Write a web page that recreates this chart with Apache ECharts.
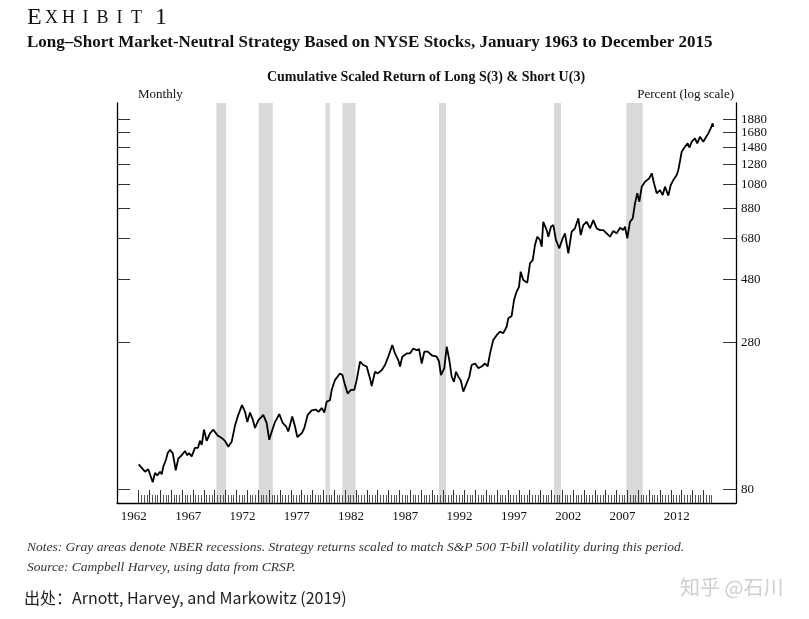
<!DOCTYPE html>
<html><head><meta charset="utf-8">
<script src="https://cdn.jsdelivr.net/npm/echarts@6/dist/echarts.min.js"></script>
<style>html,body{margin:0;padding:0;background:#fff}#c{width:809px;height:619px}</style>
</head><body><div id="c"></div>
<script>
// ---- data ----
const dates = [1963.0,1963.58,1963.88,1964.29,1964.5,1964.71,1964.96,1965.12,1965.26,1965.51,
1965.67,1965.88,1966.13,1966.28,1966.41,1966.64,1966.96,1967.26,1967.47,1967.63,
1967.88,1968.18,1968.46,1968.64,1968.8,1969.01,1969.26,1969.56,1969.87,1970.24,
1970.64,1970.94,1971.25,1971.56,1971.87,1972.17,1972.51,1972.79,1973.0,1973.25,
1973.5,1973.71,1974.01,1974.47,1974.78,1975.02,1975.25,1975.55,1975.94,1976.26,
1976.56,1976.77,1977.14,1977.39,1977.6,1978.01,1978.25,1978.56,1978.93,1979.3,
1979.55,1979.85,1980.09,1980.31,1980.61,1980.77,1981.07,1981.53,1981.76,1981.99,
1982.24,1982.55,1982.85,1983.07,1983.38,1983.68,1983.99,1984.3,1984.45,1984.76,
1985.01,1985.37,1985.68,1985.98,1986.35,1986.6,1986.9,1987.06,1987.27,1987.68,
1987.98,1988.28,1988.6,1988.81,1989.06,1989.3,1989.61,1989.98,1990.44,1990.65,
1990.83,1991.14,1991.36,1991.6,1991.82,1992.03,1992.22,1992.43,1992.65,1992.89,
1993.14,1993.44,1993.66,1993.97,1994.27,1994.58,1994.89,1995.13,1995.35,1995.65,
1995.96,1996.27,1996.57,1996.88,1997.03,1997.34,1997.56,1997.8,1998.02,1998.17,
1998.41,1998.78,1999.03,1999.28,1999.49,1999.7,1999.95,2000.11,2000.25,2000.57,
2000.72,2000.96,2001.18,2001.42,2001.73,2002.04,2002.25,2002.56,2002.87,2003.17,
2003.48,2003.7,2003.94,2004.25,2004.56,2004.86,2005.17,2005.48,2005.78,2006.09,
2006.4,2006.7,2007.01,2007.32,2007.62,2007.78,2007.99,2008.24,2008.49,2008.7,
2008.91,2009.1,2009.32,2009.62,2009.8,2010.01,2010.24,2010.45,2010.7,2011.0,
2011.25,2011.46,2011.77,2011.99,2012.23,2012.54,2012.69,2013.0,2013.3,2013.55,
2013.72,2013.92,2014.22,2014.43,2014.68,2014.99,2015.19,2015.45,2015.67,2015.85,2015.92];
const values = [99,93,95,85,92,90,93,91,97,103,
109,112,109,101,94,104,107,111,107,109,
106,114,114,121,117,133,121,129,133,127,
124,121,115,120,138,151,164,155,142,154,
145,135,144,151,141,122,131,142,152,141,
137,131,149,137,125,129,135,151,157,158,
155,160,154,169,171,187,203,215,212,195,
181,187,187,203,238,231,228,206,193,218,
215,221,231,248,274,255,241,228,248,255,
255,266,262,265,234,259,259,251,248,238,
212,225,270,241,209,200,218,209,203,184,
195,209,231,234,225,228,234,228,255,286,
298,307,303,320,344,351,402,432,450,512,
477,466,550,565,643,690,671,633,784,730,
690,751,762,671,625,680,710,599,720,741,
807,700,762,784,741,795,741,730,730,710,
690,724,710,745,730,751,680,784,807,917,
999,930,1057,1103,1090,1135,1185,1088,999,1027,
984,1057,979,1072,1118,1167,1218,1424,1486,1529,
1476,1551,1596,1529,1618,1551,1600,1666,1738,1814,1762];
const recessionStart = [1970.15,1974.05,1980.2,1981.75,1990.65,2001.25,2007.9];
const recessionEnd   = [1971.05,1975.35,1980.6,1982.98,1991.3,2001.88,2009.4];
const yTickValues = [80,280,480,680,880,1080,1280,1480,1680,1880];
const xLabelYears = [1962,1967,1972,1977,1982,1987,1992,1997,2002,2007,2012];
const firstTickYear = 1963, lastTickYear = 2015;

// ---- derived structures ----
const lineData = dates.map((d,i)=>[d, values[i]]);
const bands = recessionStart.map((s,i)=>[{xAxis:s},{xAxis:recessionEnd[i]}]);
const yearTicks = [], quarterTicks = [];
for (let y = firstTickYear; y <= lastTickYear; y++) {
  yearTicks.push(y);
  for (let q = 1; q < 4; q++) quarterTicks.push(y + q/4);
}
const labelPos = xLabelYears.map(y => y + 0.55);

const serif = 'Liberation Serif';
const Y_MIN = 71.2, Y_MAX = 2158;

const chart = echarts.init(document.getElementById('c'), null, {renderer:'canvas'});
chart.setOption({
  backgroundColor:'#fff',
  animation:false,
  grid:{left:117, right:73, top:103, bottom:116},
  xAxis:[{
    type:'value', min:1961, max:2018, position:'bottom', z:10,
    axisLine:{show:true, lineStyle:{color:'#000', width:1.3}},
    splitLine:{show:false},
    axisTick:{show:true, inside:true, length:13, customValues:yearTicks, lineStyle:{color:'#333', width:1}},
    axisLabel:{customValues:labelPos, formatter:v=>String(Math.floor(v)), color:'#111', fontFamily:serif, fontSize:13, margin:7}
  },{
    type:'value', min:1961, max:2018, position:'bottom', z:10,
    axisLine:{show:false}, splitLine:{show:false},
    axisTick:{show:true, inside:true, length:8, customValues:quarterTicks, lineStyle:{color:'#555', width:1}},
    axisLabel:{show:false}
  }],
  yAxis:[{
    type:'log', position:'right', min:Y_MIN, max:Y_MAX, z:10,
    axisLine:{show:true, lineStyle:{color:'#000', width:1.3}},
    splitLine:{show:false}, minorTick:{show:false},
    axisTick:{show:true, inside:true, length:13, customValues:yTickValues, lineStyle:{color:'#333'}},
    axisLabel:{customValues:yTickValues, formatter:v=>String(Math.round(v)), color:'#111', fontFamily:serif, fontSize:13, margin:5}
  },{
    type:'log', position:'left', min:Y_MIN, max:Y_MAX, z:10,
    axisLine:{show:true, lineStyle:{color:'#000', width:1.3}},
    splitLine:{show:false},
    axisTick:{show:true, inside:true, length:13, customValues:yTickValues, lineStyle:{color:'#333'}},
    axisLabel:{show:false}
  }],
  series:[{
    type:'line', data:[], z:1, silent:true,
    markArea:{silent:true, itemStyle:{color:'#d9d9d9'}, data:bands}
  },{
    type:'line', data:lineData, z:5, showSymbol:false, symbol:'none',
    lineStyle:{color:'#000', width:1.8}, silent:true
  }],
  graphic:[
    {type:'text', left:27, top:6, style:{
      text:'{e|E}{c|X}{c|H}{c|I}{c|B}{c|I}{c|T}{g| }{n|1}',
      rich:{
        e:{fontFamily:serif, fontSize:24, width:16, fill:'#111'},
        c:{fontFamily:serif, fontSize:18, width:17, align:'center', fill:'#111'},
        g:{width:10, fontSize:18},
        n:{fontFamily:serif, fontSize:24, fill:'#111'}
      }}},
    {type:'text', left:27, top:34, style:{text:'Long\u2013Short Market-Neutral Strategy Based on NYSE Stocks, January 1963 to December 2015', fontFamily:serif, fontWeight:'bold', fontSize:17, fill:'#111'}},
    {type:'text', x:426, y:77, style:{text:'Cumulative Scaled Return of Long S(3) & Short U(3)', fontFamily:serif, fontWeight:'bold', fontSize:14, fill:'#111', align:'center', verticalAlign:'middle'}},
    {type:'text', left:138, top:88, style:{text:'Monthly', fontFamily:serif, fontSize:13, fill:'#111'}},
    {type:'text', right:75, top:88, style:{text:'Percent (log scale)', fontFamily:serif, fontSize:13, fill:'#111'}},
    {type:'text', left:27, top:540, style:{text:'Notes: Gray areas denote NBER recessions. Strategy returns scaled to match S&P 500 T-bill volatility during this period.', fontFamily:serif, fontStyle:'italic', fontSize:13.5, fill:'#333'}},
    {type:'text', left:27, top:560, style:{text:'Source: Campbell Harvey, using data from CRSP.', fontFamily:serif, fontStyle:'italic', fontSize:13.5, fill:'#333'}},
    {type:'text', left:24, top:590, style:{text:'出处：Arnott, Harvey, and Markowitz (2019)', fontFamily:'Noto Sans CJK SC', fontSize:16, fill:'#222'}},
    {type:'text', left:680, top:577, style:{text:'知乎 @石川', fontFamily:'Noto Sans CJK SC', fontSize:20, fill:'#cfcfcf'}}
  ]
});
</script>
</body></html>
